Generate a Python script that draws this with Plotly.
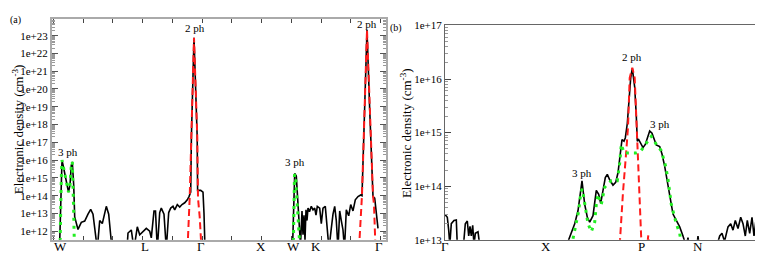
import plotly.graph_objects as go

W, H = 763, 253
FONT = "Liberation Serif"

# ---------------- panel (a) ----------------
a_ticks_k = [8, 93, 149, 209, 241, 264, 327]
a_ticks_lbl = ["W", "L", "Γ", "X", "W", "K", "Γ"]
a_ytick_exp = list(range(12, 24))

a_black_k = [7.5, 8.5, 10, 11.5, 13, 14.5, 16.5, 18, 19.3, 20.3, 21.7, 22.7, 26, 29.3, 32.7, 36, 38.7, 41,
             45.3, 47.7, 50.3, 54.3, 56.7, 60, 75, 76, 79.3, 82, 85.3, 87.7, 91, 94.3, 97.7, 99.3, 102, 103.5,
             105.3, 107.7, 109.3, 112, 114.3, 116.7, 118.7, 121, 122.7, 125.3, 127.7, 130, 132.7, 135.3, 137,
             138.7, 139.4, 142, 145.2, 145.6, 148.7, 151, 152, 153, None,
             240.5, 241.5, 242.7, 244.3, 245.5, 246.7, 248.5, 250, 251, 252, 253, 254, 255, 256, 257.5, 259.3,
             261, 262.7, 264, 265.3, 267.7, 269.3, 271, 273.3, 275, 277, 279.3, 281, 282.7, 284.3, 286, 287.7,
             289.3, 291, 292.5, 294.3, 296.7, 298.7, 301, 303.3, 306, 308.7, 310, 315, 317.7, 321, 322.7, 325.3, 326]
a_black_log = [11.0, 13.5, 16.0, 15.6, 15.2, 14.6, 14.2, 14.6, 15.7, 15.9, 14.6, 12.8, 12.1, 12.5, 12.57, 12.96, 13.23, 12.96,
               11.0, 12.6, 12.43, 13.4, 12.96, 11.0, 11.0, 11.9, 12.07, 11.0, 12.25, 11.8, 12.0, 12.16, 12.0, 11.63, 13.14, 13.14,
               11.0, 13.05, 13.3, 12.96, 11.0, 13.05, 13.3, 13.4, 13.2, 13.5, 13.36, 13.5, 13.6, 13.77, 13.95,
               14.2, 17.3, 22.88, 17.3, 14.3, 14.3, 14.2, 13.0, 11.0, None,
               11.0, 13.5, 15.25, 15.1, 14.0, 12.25, 11.2, 13.14, 11.8, 12.9, 11.5, 13.2, 12.6, 13.3, 13.1, 13.4,
               13.2, 13.3, 12.9, 13.4, 13.3, 12.43, 13.3, 13.4, 12.4, 11.0, 12.16, 12.96, 13.4, 12.6, 11.0, 13.14,
               12.6, 12.07, 11.0, 13.2, 12.87, 13.5, 13.14, 13.77, 13.95, 14.04, 14.0, 23.32, 18.86, 13.95, 13.86, 12.25, 12.16]

a_red_k = [135.5, 137.7, 139.3, 142, 145.3, 146, 147.7, 149.5, None,
           307, 308.5, 310, 315, 317.7, 321, 322, 323.5]
a_red_log = [11.0, 13.9, 17.25, 22.88, 17.25, 13.86, 12.8, 11.0, None,
             11.0, 12.5, 14.04, 23.32, 18.86, 14.0, 13.5, 11.0]

a_green_k = [8, 8.5, 9.3, 10, 11.5, 13, 14.5, 16.5, 18, 19.3, 20.3, 21, 21.5, 22, 22.5, None,
             241.3, 241.8, 242.5, 243.5, 244.5, 245.5, 246.5, 247.5, 248]
a_green_log = [11.0, 13.0, 15.0, 16.0, 15.6, 15.2, 14.6, 14.2, 14.6, 15.7, 15.9, 15.0, 13.5, 12.2, 11.0, None,
               11.0, 13.0, 15.2, 15.1, 14.2, 13.3, 12.5, 11.9, 11.0]

# ---------------- panel (b) ----------------
b_ticks_k = [0, 101, 196, 253, 317]
b_ticks_lbl = ["Γ", "X", "P", "N", "Γ"]
b_ytick_exp = [13, 14, 15, 16, 17]

b_black_k = [0, 2.3, 3.7, 4.8, 6.3, 9, 11.3, 12.3, 18.5, 20.3, 22.3, 23.7, 25, 26.3, 27.7, 29, 30.3, 33, 34.7,
             123, 123.7, 129.7, 133, 135.7, 137, 139.7, 142.3, 144.7, 148, 151.3, 153.7, 155.7, 158, 160.3, 162.3,
             164.7, 168, 170.7, 173, 175.3, 177, 179, 180.3, 182.3, 184.7, 185.7, 187.3, 189.7, 191.3, 192.3, 193.7,
             195.7, 198, 200.3, 203, 204.7, 207, 209, 211.3, 214.7, 217, 219.7, 222.3, 225, 228, 231.3, 234.7, 238,
             240, 242, 243, 244, 252, 253, 254, 272, 274.7, 277, 279.5, 283, 285.7, 288, 290.3, 293, 295.7, 298,
             300.3, 302.3, 304.7, 307, 309, 311.3, 313.7, 315.7, 318, 320, 322]
b_black_log = [13.47, 13.42, 13.18, 12.9, 13.3, 13.36, 13.37, 12.9, 12.9, 13.3, 13.35, 13.07, 13.25, 13.07, 13.27, 12.9, 13.12, 13.15, 12.9,
               12.9, 13.0, 13.3, 13.54, 13.9, 14.1, 13.66, 13.42, 13.33, 13.45, 13.92, 13.85, 13.68, 13.89, 14.16, 14.22,
               14.12, 14.02, 14.07, 14.25, 14.6, 14.87, 14.84, 14.9, 15.17, 15.73, 16.02, 16.2, 15.85, 15.31, 14.84, 14.87,
               14.81, 14.72, 14.78, 14.96, 15.03, 14.99, 14.87, 14.77, 14.74, 14.6, 14.37, 14.07, 13.78, 13.48, 13.36, 13.24, 13.07,
               12.95, 12.95, 13.04, 12.9, 12.9, 13.07, 12.9, 12.9, 13.07, 13.12, 12.97, 13.24, 13.3, 13.18, 13.36, 13.21, 13.42, 13.3,
               13.07, 13.36, 13.12, 13.42, 13.07, 13.42, 12.95, 13.36, 13.47, 13.3, 13.45]

b_red_k = [174.7, 176.3, 178, 181.3, 183, 184.7, 187.3, 189.7, 191.5, 193, 194.7, 196.5, None, 202.5, 203.3, 204]
b_red_log = [12.9, 13.5, 13.89, 14.66, 15.1, 16.02, 16.21, 16.02, 15.2, 14.43, 13.95, 12.9, None, 12.95, 13.08, 12.95]

b_green_k = [128, 131.3, 133.7, 135.3, 137, 138.7, 140.3, 143, 146.3, 149.7, 151.3, 153, 156.3, 159.7, 163, 166.3,
             172.3, 174.7, 176.3, 179, 186, 191, 196, 201.3, 206.3, 211.3, 216.3, 220.7, 223, 226.3, 229, 231.3, 234.7, 236]
b_green_log = [13.02, 13.33, 13.54, 13.8, 13.95, 13.8, 13.63, 13.3, 13.15, 13.33, 13.66, 13.85, 13.66, 13.98, 14.05, 14.1,
               14.1, 14.43, 14.78, 14.62, 14.62, 14.62, 14.66, 14.81, 14.93, 14.78, 14.66, 14.37, 14.13, 13.66, 13.45, 13.3, 13.12, 12.95]


def dens(logs):
    return [None if v is None else 10.0 ** v for v in logs]


fig = go.Figure()

black = dict(color="black", width=1.6)
red = dict(color="#ff1a1a", width=2, dash="7px,4px")
green = dict(color="#22ee22", width=3, dash="3px,5px")

for xa, ya, k, lg, ln in [
    ("x", "y", a_black_k, a_black_log, black),
    ("x", "y", a_red_k, a_red_log, red),
    ("x", "y", a_green_k, a_green_log, green),
    ("x2", "y2", b_black_k, b_black_log, black),
    ("x2", "y2", b_red_k, b_red_log, red),
    ("x2", "y2", b_green_k, b_green_log, green),
]:
    fig.add_trace(go.Scatter(x=k, y=dens(lg), mode="lines", line=ln, xaxis=xa, yaxis=ya,
                             showlegend=False, hoverinfo="skip"))

ybot = 1 - 237 / H
common_y = dict(type="log", showline=True, showgrid=False, zeroline=False, ticks="inside", ticklen=6,
                tickwidth=1, mirror="ticks", tickfont=dict(family=FONT, size=11, color="black"),
                tickmode="array", layer="above traces",
                minor=dict(ticks="inside", ticklen=3, tickwidth=1, dtick="D1", tickcolor="#999", showgrid=False))

fig.update_layout(
    width=W, height=H, margin=dict(l=0, r=0, t=0, b=0),
    paper_bgcolor="white", plot_bgcolor="white",
    xaxis=dict(domain=[44 / W, 378 / W], range=[0, 334], anchor="y", showline=True, showgrid=False,
               zeroline=False, showticklabels=False, ticks="inside", ticklen=4, tickwidth=1, tickcolor="#444",
               tickmode="linear", tick0=1.25, dtick=29.75, linecolor="#aaaaaa", linewidth=2, mirror="ticks",
               layer="above traces"),
    yaxis=dict(domain=[ybot, 1 - 5 / H], range=[11.52, 23.95], anchor="x",
               tickvals=[10.0 ** e for e in a_ytick_exp], ticktext=["1e+%d" % e for e in a_ytick_exp],
               linecolor="#aaaaaa", linewidth=2, tickcolor="#555", **common_y),
    xaxis2=dict(domain=[437 / W, 761 / W], range=[0, 324], anchor="y2", showline=True, showgrid=False,
                zeroline=False, showticklabels=False, ticks="",
                linecolor="#666666", linewidth=1, mirror=True),
    yaxis2=dict(domain=[ybot, 1 - 12 / H], range=[13, 17], anchor="x2",
                tickvals=[10.0 ** e for e in b_ytick_exp], ticktext=["1e+%d" % e for e in b_ytick_exp],
                linecolor="#666666", linewidth=1, tickcolor="#444", **common_y),
)


def ann(text, px, py, size=11, angle=0):
    fig.add_annotation(text=text, x=px / W, y=1 - py / H, xref="paper", yref="paper", showarrow=False,
                       font=dict(family=FONT, size=size, color="black"), textangle=angle,
                       xanchor="center", yanchor="middle")


# k-path labels along the bottom of each panel
for xr, ks, labels in [("x", a_ticks_k, a_ticks_lbl), ("x2", b_ticks_k, b_ticks_lbl)]:
    for kv, lb in zip(ks, labels):
        fig.add_annotation(text=lb, x=kv, xref=xr, y=1 - 244 / H, yref="paper", showarrow=False,
                           font=dict(family=FONT, size=13, color="black"), xanchor="center",
                           yanchor="middle", borderpad=0)

ann("(a)", 7, 6, 10)
ann("(b)", 388, 15, 10)
ann("3 ph", 60, 145)
ann("2 ph", 187, 15)
ann("3 ph", 287, 155)
ann("2 ph", 359, 10)
ann("3 ph", 574, 167)
ann("2 ph", 624, 45)
ann("3 ph", 652, 115)
ann("Electronic density (cm<sup>-3</sup>)", 10, 121, 13, -90)
ann("Electronic density (cm<sup>-3</sup>)", 398, 125, 13, -90)

fig.write_html("out.html")
